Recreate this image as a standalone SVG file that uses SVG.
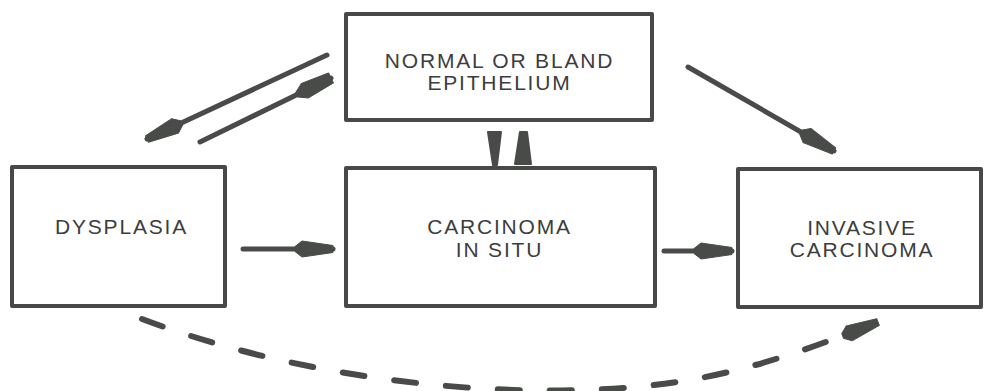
<svg xmlns="http://www.w3.org/2000/svg" width="984" height="391" viewBox="0 0 984 391">
<style>
.box{fill:#fff;stroke:#464946;stroke-width:4;stroke-linejoin:round}
.lbl{font-family:"Liberation Sans",Arial,sans-serif;font-size:21px;letter-spacing:1.8px;fill:#3c3d3c;text-anchor:middle}
.arr{fill:none;stroke:#484b48;stroke-width:5;stroke-linecap:round}
.dash{fill:none;stroke:#484b48;stroke-width:6;stroke-linecap:round;stroke-dasharray:22 30}
.wedge{fill:#484b48;stroke:#484b48;stroke-width:2;stroke-linejoin:round}
</style>
<defs>
<marker id="spear" markerUnits="userSpaceOnUse" orient="auto" refX="0" refY="0" markerWidth="80" markerHeight="40" viewBox="-40 -20 80 40" overflow="visible">
<path d="M-38,-2.5 L-31,-8 L0,-3.5 L0,3.5 L-31,8 L-38,2.5 Z" fill="#484b48" stroke="#484b48" stroke-width="1" stroke-linejoin="round"/>
</marker>
<marker id="blunt" markerUnits="userSpaceOnUse" orient="auto" refX="0" refY="0" markerWidth="80" markerHeight="40" viewBox="-40 -20 80 40" overflow="visible">
<path d="M-38,-2.5 L-29,-8 L0,-5.5 L0,5.5 L-29,8 L-38,2.5 Z" fill="#484b48" stroke="#484b48" stroke-width="1" stroke-linejoin="round"/>
</marker>
</defs>
<g id="connectors">
<line class="arr" x1="327" y1="55" x2="147" y2="139" marker-end="url(#spear)"/>
<line class="arr" x1="200" y1="142" x2="331" y2="78" marker-end="url(#blunt)"/>
<line class="arr" x1="688" y1="67" x2="834" y2="151" marker-end="url(#spear)"/>
<line class="arr" x1="243" y1="249" x2="333" y2="249" marker-end="url(#spear)"/>
<line class="arr" x1="664" y1="251" x2="732" y2="251" marker-end="url(#spear)"/>
<path class="wedge" d="M488,132 L501,132 L497,165 L493,165 Z"/>
<path class="wedge" d="M520,132 L527,132 L531,164 L515,164 Z"/>
<path class="dash" d="M142,319 C330,390 560,405 700,378 C760,367 820,345 878,322" marker-end="url(#spear)"/>
</g>
<g id="normal">
<rect class="box" x="346" y="14" width="306" height="106"/>
<text class="lbl" x="499.5" y="68">NORMAL OR BLAND</text>
<text class="lbl" x="499.5" y="90">EPITHELIUM</text>
</g>
<g id="dysplasia">
<rect class="box" x="12" y="167" width="213" height="139"/>
<text class="lbl" x="121.5" y="234">DYSPLASIA</text>
</g>
<g id="cis">
<rect class="box" x="346" y="168" width="309" height="138"/>
<text class="lbl" x="499.5" y="234">CARCINOMA</text>
<text class="lbl" x="499.5" y="257">IN SITU</text>
</g>
<g id="invasive">
<rect class="box" x="738" y="169" width="243" height="138"/>
<text class="lbl" x="862" y="235">INVASIVE</text>
<text class="lbl" x="862" y="257">CARCINOMA</text>
</g>
</svg>
